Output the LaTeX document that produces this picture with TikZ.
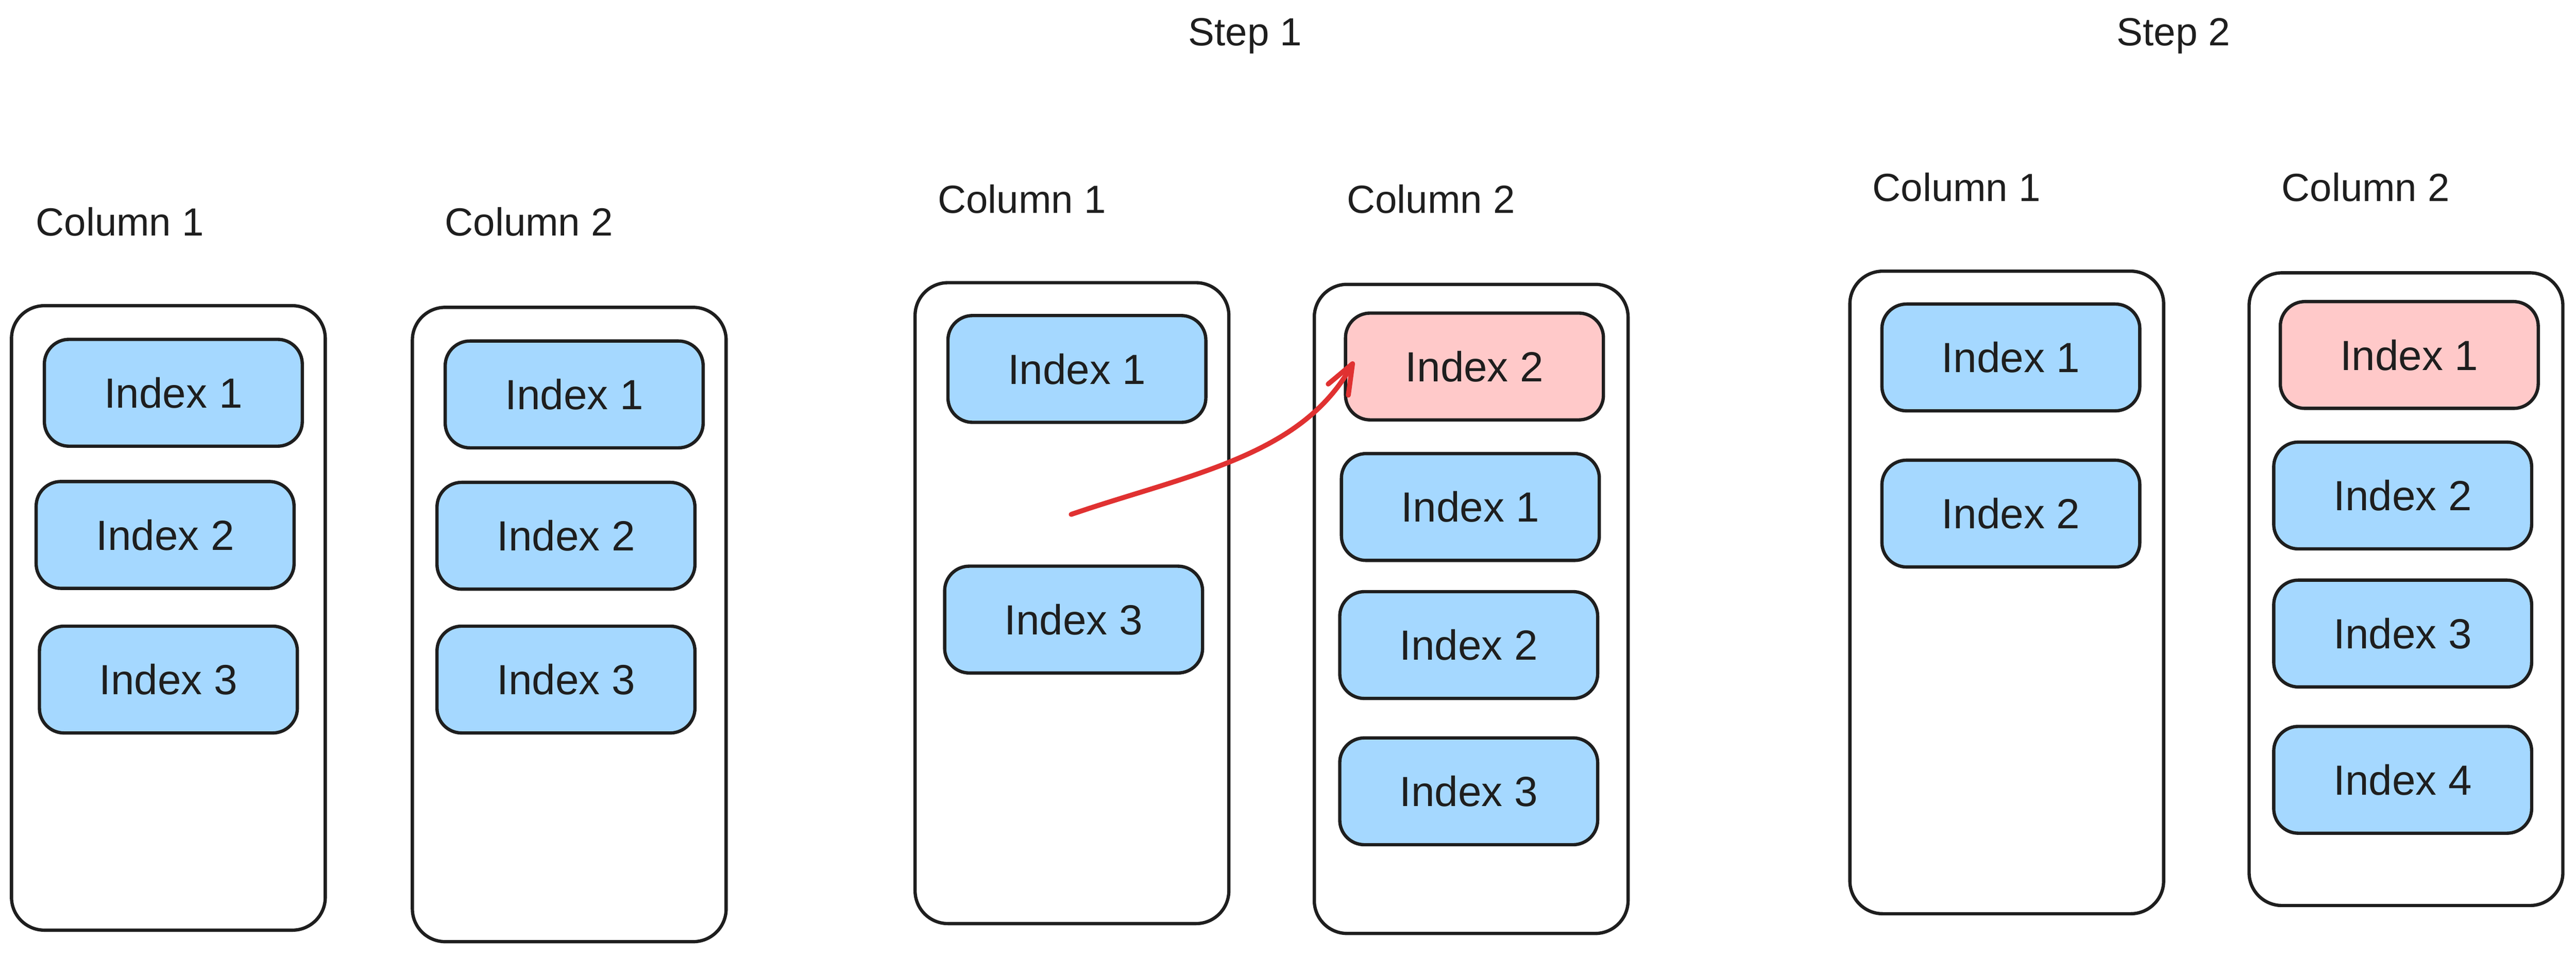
\documentclass[tikz,border=0pt]{standalone}
\usepackage{fontspec}
\setmainfont{Liberation Sans}
\usetikzlibrary{arrows.meta}
\definecolor{inkc}{HTML}{1E1E1E}
\definecolor{bluef}{HTML}{A5D8FF}
\definecolor{pinkf}{HTML}{FFC9C9}
\definecolor{redc}{HTML}{E03131}
\tikzset{
  colbox/.style={draw=inkc, line width=0.2cm, rounded corners=2cm, minimum width=19.1cm, inner sep=0pt},
  idxbox/.style={draw=inkc, fill=bluef, line width=0.2cm, rounded corners=1.5cm, minimum width=15.7cm, minimum height=6.5cm, inner sep=0pt, text=inkc, font=\fontsize{73}{86}\selectfont},
  hotbox/.style={idxbox, fill=pinkf},
  lbl/.style={text=inkc, font=\fontsize{68}{80}\selectfont, inner sep=0pt},
  movearrow/.style={draw=redc, line width=0.3cm, line cap=round, -{Straight Barb[length=1.8cm, width=1.4cm, line width=0.3cm, round]}}
}
\begin{document}
\begin{tikzpicture}[x=0.1cm, y=-0.1cm]
\useasboundingbox (0,0) rectangle (1568,580.8);
% titles
\node[lbl] (step1) at (758,22) {Step 1};
\node[lbl] (step2) at (1323,22) {Step 2};
% group 1
\node[lbl] (g1l1) at (73,135) {Column 1};
\node[lbl] (g1l2) at (322,135) {Column 2};
\node[colbox, minimum height=38cm] (g1c1) at (102.5,376) {};
\node[colbox, minimum height=38.6cm] (g1c2) at (346.5,380) {};
\node[idxbox] (g1a1) at (105.5,239) {Index 1};
\node[idxbox] (g1a2) at (100.5,325.5) {Index 2};
\node[idxbox] (g1a3) at (102.5,413.5) {Index 3};
\node[idxbox] (g1b1) at (349.5,240) {Index 1};
\node[idxbox] (g1b2) at (344.5,326) {Index 2};
\node[idxbox] (g1b3) at (344.5,413.5) {Index 3};
% group 2
\node[lbl] (g2l1) at (622,121) {Column 1};
\node[lbl] (g2l2) at (871,121) {Column 2};
\node[colbox, minimum height=39cm] (g2c1) at (652.5,367) {};
\node[colbox, minimum height=39.5cm] (g2c2) at (895.5,370.5) {};
\node[idxbox] (g2a1) at (655.5,224.5) {Index 1};
\node[idxbox] (g2a3) at (653.5,377) {Index 3};
\node[hotbox] (g2b0) at (897.5,223) {Index 2};
\node[idxbox] (g2b1) at (895,308.5) {Index 1};
\node[idxbox] (g2b2) at (894,392.5) {Index 2};
\node[idxbox] (g2b3) at (894,481.5) {Index 3};
\coordinate (astart) at (652,313);
\draw[movearrow] (astart) .. controls (722,289) and (792,278) .. ([xshift=0.6cm,yshift=0.3cm]g2b0.west);
% group 3
\node[lbl] (g3l1) at (1191,114) {Column 1};
\node[lbl] (g3l2) at (1440,114) {Column 2};
\node[colbox, minimum height=39.1cm] (g3c1) at (1221.5,360.5) {};
\node[colbox, minimum height=38.5cm] (g3c2) at (1464.5,358.5) {};
\node[idxbox] (g3a1) at (1224,217.5) {Index 1};
\node[idxbox] (g3a2) at (1224,312.5) {Index 2};
\node[hotbox] (g3b1) at (1466.5,216) {Index 1};
\node[idxbox] (g3b2) at (1462.5,301.5) {Index 2};
\node[idxbox] (g3b3) at (1462.5,385.5) {Index 3};
\node[idxbox] (g3b4) at (1462.5,474.5) {Index 4};
\end{tikzpicture}
\end{document}
